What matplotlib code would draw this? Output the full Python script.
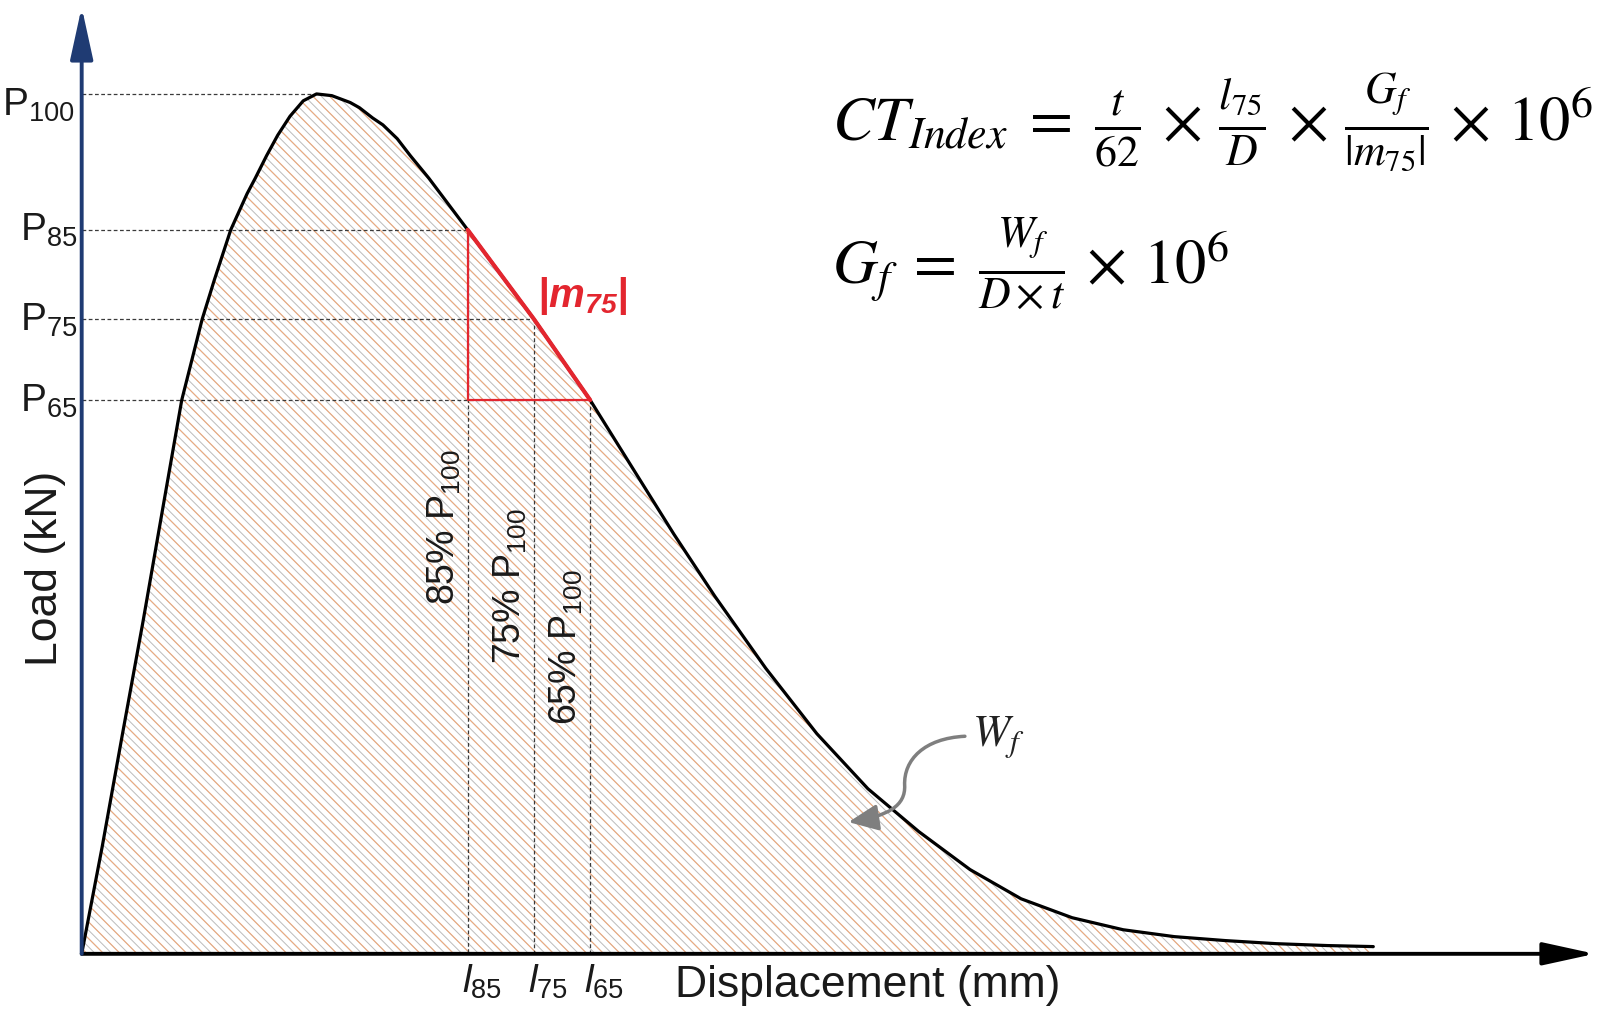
import numpy as np
import matplotlib
matplotlib.use("Agg")
import matplotlib.pyplot as plt
from matplotlib.patches import FancyArrowPatch
from matplotlib.path import Path

# curva carga x deslocamento
displacement = [0, 0.20, 0.40, 0.60, 0.80, 0.98, 1.18, 1.30, 1.46, 1.62, 1.70, 1.81, 1.92, 2.04,
                2.17, 2.30, 2.45, 2.63, 2.72, 2.85, 2.95, 3.09, 3.22, 3.40, 3.78, 4.43, 4.98,
                5.40, 5.80, 6.20, 6.70, 7.20, 7.70, 8.20, 8.70, 9.20, 9.70, 10.20, 10.70,
                11.20, 11.70, 12.20, 12.65]
load = [0, 0.62, 1.28, 1.93, 2.61, 3.22, 3.69, 3.92, 4.21, 4.42, 4.51, 4.64, 4.76, 4.87,
        4.96, 5.00, 4.99, 4.95, 4.92, 4.86, 4.82, 4.74, 4.64, 4.51, 4.21, 3.69, 3.22,
        2.82, 2.44, 2.08, 1.66, 1.28, 0.96, 0.71, 0.49, 0.32, 0.21, 0.14, 0.10,
        0.077, 0.059, 0.048, 0.042]

peak_disp = 2.30
peak_load = 5.00
level_names = ["85", "75", "65"]
level_loads = [4.21, 3.69, 3.22]
level_disps = [3.78, 4.43, 4.98]

plt.rcParams["font.family"] = ["Liberation Sans", "DejaVu Sans"]
plt.rcParams["mathtext.fontset"] = "custom"
plt.rcParams["mathtext.rm"] = "Liberation Sans"
plt.rcParams["mathtext.it"] = "Liberation Sans:italic"
plt.rcParams["mathtext.bf"] = "Liberation Sans:italic:bold"
plt.rcParams["hatch.linewidth"] = 0.7

fig = plt.figure(figsize=(16.01, 10.12), dpi=100)
ax = fig.add_axes([0, 0, 1, 1])
ax.set_xlim(-0.80, 14.88)
ax.set_ylim(-0.3325, 5.552)
ax.axis("off")

x = np.array(displacement)
y = np.array(load)

# area hachurada (Wf)
ax.fill_between(x, y, 0, facecolor="white", edgecolor="#bcbcbc", hatch="\\\\\\\\", linewidth=0, zorder=1)
ax.fill_between(x, y, 0, facecolor="none", edgecolor="#f2a877", hatch="\\\\", linewidth=0, zorder=1.1)

# linhas tracejadas de referencia
dash = dict(color="#3a3a3a", lw=0.9, dashes=(3, 2), zorder=2)
ax.plot([0, peak_disp], [peak_load, peak_load], **dash)
for pl, ld in zip(level_loads, level_disps):
    ax.plot([0, ld], [pl, pl], **dash)
    ax.plot([ld, ld], [pl, 0], **dash)

# curva
ax.plot(x, y, color="black", lw=2.3, solid_capstyle="round", solid_joinstyle="round", zorder=3)

# triangulo da inclinacao m75
red = "#e3262f"
ax.plot([level_disps[0], level_disps[0], level_disps[2]],
        [level_loads[0], level_loads[2], level_loads[2]], color=red, lw=1.6, zorder=4)
seg = (x >= level_disps[0]) & (x <= level_disps[2])
ax.plot(x[seg], y[seg], color=red, lw=3.0, solid_capstyle="round", zorder=4)

# eixos com setas
ax.annotate("", xy=(14.82, 0), xytext=(0, 0),
            arrowprops=dict(arrowstyle="-|>,head_length=1.6,head_width=0.35", mutation_scale=20,
                            lw=2.8, color="black", shrinkA=0, shrinkB=0), zorder=5)
ax.annotate("", xy=(0, 5.505), xytext=(0, 0),
            arrowprops=dict(arrowstyle="-|>,head_length=1.6,head_width=0.35", mutation_scale=20,
                            lw=2.8, color="#1f3b73", shrinkA=0, shrinkB=0), zorder=5)

# rotulos dos eixos
ax.text(-0.35, 2.245, "Load (kN)", rotation=90, ha="center", va="center", fontsize=32, color="#1a1a1a")
ax.text(7.70, -0.178, "Displacement (mm)", ha="center", va="center", fontsize=32, color="#1a1a1a")

ax.text(-0.78, peak_load - 0.06, r"P$_{100}$", ha="left", va="center", fontsize=28, color="#1a1a1a")
for name, pl, ld in zip(level_names, level_loads, level_disps):
    ax.text(-0.04, pl, r"P$_{%s}$" % name, ha="right", va="center", fontsize=28, color="#1a1a1a")
    ax.text(ld - 0.06, -0.16, r"$\mathit{l_{%s}}$" % name, ha="left", va="center", fontsize=28, color="#1a1a1a")

label_y = [2.488, 2.144, 1.787]
for name, ld, ly in zip(level_names, level_disps, label_y):
    ax.text(ld - 0.05, ly, r"%s%% P$_{100}$" % name, rotation=90, ha="right", va="center",
            fontsize=27, color="#1a1a1a")

ax.text(4.90, 3.83, r"$\mathbf{|m_{75}|}$", ha="center", va="center", fontsize=29, color=red)

# formulas
ax.text(7.35, 4.84,
        r"$CT_{Index}\;=\;\frac{t}{62}\,\times\,\frac{l_{75}}{D}\,\times\,\frac{G_f}{|m_{75}|}\,\times\,10^6$",
        ha="left", va="center", fontsize=45, math_fontfamily="stix", color="black")
ax.text(7.35, 4.02, r"$G_f\;=\;\frac{W_f}{D\times t}\,\times\,10^6$",
        ha="left", va="center", fontsize=45, math_fontfamily="stix", color="black")

# Wf com seta curva
ax.text(8.98, 1.265, r"$W_f$", ha="center", va="center", fontsize=32, math_fontfamily="stix", color="#222222")
arrow_path = Path([(8.65, 1.265), (8.25, 1.253), (8.05, 1.128), (8.06, 0.980),
                   (8.07, 0.861), (7.90, 0.802), (7.51, 0.766)],
                  [Path.MOVETO, Path.CURVE4, Path.CURVE4, Path.CURVE4,
                   Path.CURVE4, Path.CURVE4, Path.CURVE4])
ax.add_patch(FancyArrowPatch(path=arrow_path, arrowstyle="-|>,head_length=0.9,head_width=0.4",
                             mutation_scale=20, lw=2.5, color="#7f7f7f", zorder=6))

fig.savefig("out.png", dpi=100)
